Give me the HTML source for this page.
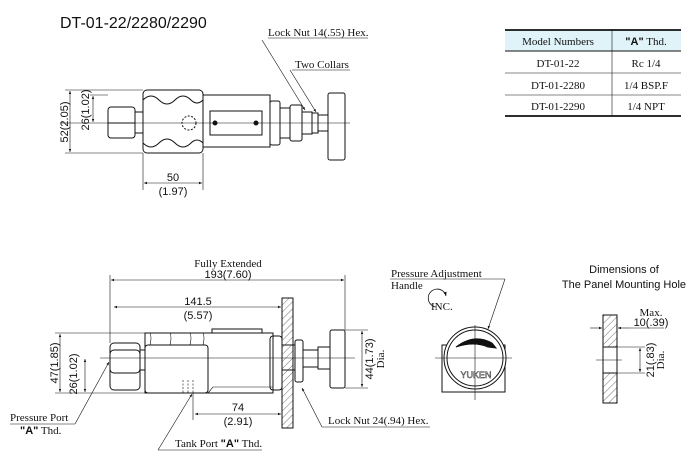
<!DOCTYPE html>
<html><head><style>
html,body{margin:0;padding:0;background:#fff;}
svg{display:block;}
.s{font-family:"Liberation Serif",serif;font-size:11px;fill:#111;}
.a{font-family:"Liberation Sans",sans-serif;font-size:11px;fill:#111;}
</style></head><body>
<svg width="700" height="458" viewBox="0 0 700 458" xmlns="http://www.w3.org/2000/svg">
<defs>
<pattern id="h" width="5" height="5" patternUnits="userSpaceOnUse" patternTransform="rotate(45)">
<line x1="0" y1="0" x2="0" y2="5" stroke="#333" stroke-width="0.7"/></pattern>
<marker id="ar" viewBox="0 0 10 10" refX="10" refY="5" markerWidth="7" markerHeight="5" orient="auto-start-reverse"><path d="M0,1 L10,5 L0,9z" fill="#111"/></marker>
</defs>
<g stroke="#111" fill="none" stroke-width="1">
<!-- TOP DRAWING -->
<line x1="60" y1="123" x2="350" y2="123" stroke-width="0.6"/>
<rect x="108" y="107" width="27" height="31" rx="3"/>
<line x1="108" y1="123" x2="135" y2="123"/>
<rect x="135" y="112" width="8" height="21"/>
<rect x="143" y="90" width="60" height="63" rx="4"/>
<path d="M143,100 q8,-8 16,0 q8,8 16,0 q8,-8 16,0 q6,6 12,0" />
<path d="M143,143 q8,8 16,0 q8,-8 16,0 q8,8 16,0 q6,-6 12,0" />
<circle cx="189" cy="123" r="7" stroke-dasharray="2,1.5"/>
<rect x="203" y="95" width="67" height="52"/>
<rect x="210" y="111" width="52" height="24"/>
<circle cx="215" cy="123" r="2" fill="#111"/><circle cx="256" cy="123" r="2" fill="#111"/>
<rect x="270" y="101" width="10" height="44" rx="2"/>
<rect x="280" y="108" width="10" height="30"/>
<rect x="290" y="105" width="12" height="36" rx="2"/>
<rect x="302" y="112" width="10" height="22"/>
<rect x="312" y="113" width="6" height="20"/><rect x="318" y="115" width="10" height="16"/>
<rect x="328" y="93" width="17" height="67" rx="2"/>
<line x1="65" y1="90" x2="143" y2="90" stroke-width="0.6"/>
<line x1="65" y1="153" x2="143" y2="153" stroke-width="0.6"/>
<line x1="90" y1="95" x2="108" y2="95" stroke-width="0.6"/>
<line x1="70" y1="91" x2="70" y2="152" marker-start="url(#ar)" marker-end="url(#ar)" stroke-width="0.6"/>
<line x1="93" y1="96" x2="93" y2="122" marker-start="url(#ar)" marker-end="url(#ar)" stroke-width="0.6"/>
<line x1="143" y1="153" x2="143" y2="190" stroke-width="0.6"/>
<line x1="203" y1="153" x2="203" y2="190" stroke-width="0.6"/>
<line x1="144" y1="183" x2="202" y2="183" marker-start="url(#ar)" marker-end="url(#ar)" stroke-width="0.6"/>
<line x1="268" y1="38" x2="368" y2="38" stroke-width="0.6"/>
<line x1="262" y1="40" x2="305" y2="110" marker-end="url(#ar)" stroke-width="0.6"/>
<line x1="292" y1="70" x2="350" y2="70" stroke-width="0.6"/>
<line x1="290" y1="70" x2="316" y2="112" marker-end="url(#ar)" stroke-width="0.6"/>
<!-- TABLE -->
<rect x="505" y="30" width="176" height="21" fill="#dff3f8" stroke="none"/>
<line x1="505" y1="30" x2="681" y2="30" stroke-width="1.8"/>
<line x1="505" y1="51" x2="681" y2="51"/>
<line x1="505" y1="73" x2="681" y2="73" stroke-width="0.6"/>
<line x1="505" y1="95" x2="681" y2="95" stroke-width="0.6"/>
<line x1="505" y1="116" x2="681" y2="116" stroke-width="1.8"/>
<line x1="612" y1="30" x2="612" y2="116" stroke-width="0.6"/>
<!-- BOTTOM DRAWING -->
<line x1="100" y1="358" x2="355" y2="358" stroke-width="0.6"/>
<rect x="110" y="343" width="30" height="30" rx="4"/>
<rect x="110" y="350" width="30" height="40" rx="4"/>
<rect x="140" y="350" width="5" height="20"/>
<rect x="145" y="333" width="128" height="60"/>
<rect x="145" y="345" width="63" height="48" rx="3"/>
<path d="M150,345 q2,-8 0,-12 M170,345 q2,-8 0,-12 M190,345 q2,-8 0,-12 M203,345 q2,-8 0,-12" stroke-width="0.6"/>
<path d="M212,333 v-4 h50 v4"/>
<path d="M183,380 v13 M188,380 v13 M193,380 v13" stroke-dasharray="2,1.5" stroke-width="0.6"/>
<path d="M208,393 l5,-6 h60" stroke-width="0.6"/>
<rect x="270" y="336" width="12" height="54" rx="3"/>
<rect x="282" y="345" width="13" height="25"/>
<rect x="295" y="340" width="8" height="42" rx="2"/>
<rect x="303" y="350" width="15" height="17"/>
<rect x="318" y="347" width="12" height="22"/>
<rect x="330" y="330" width="15" height="58" rx="2"/>
<rect x="282" y="298" width="11" height="130" fill="url(#h)"/>
<line x1="110" y1="275" x2="110" y2="343" stroke-width="0.6"/>
<line x1="345" y1="275" x2="345" y2="330" stroke-width="0.6"/>
<line x1="111" y1="280" x2="344" y2="280" marker-start="url(#ar)" marker-end="url(#ar)" stroke-width="0.6"/>
<line x1="114" y1="307" x2="281" y2="307" marker-start="url(#ar)" marker-end="url(#ar)" stroke-width="0.6"/>
<line x1="55" y1="333" x2="145" y2="333" stroke-width="0.6"/>
<line x1="55" y1="393" x2="145" y2="393" stroke-width="0.6"/>
<line x1="60" y1="334" x2="60" y2="392" marker-start="url(#ar)" marker-end="url(#ar)" stroke-width="0.6"/>
<line x1="85" y1="359" x2="85" y2="392" marker-start="url(#ar)" marker-end="url(#ar)" stroke-width="0.6"/>
<line x1="345" y1="330" x2="368" y2="330" stroke-width="0.6"/>
<line x1="345" y1="388" x2="368" y2="388" stroke-width="0.6"/>
<line x1="362" y1="331" x2="362" y2="387" marker-start="url(#ar)" marker-end="url(#ar)" stroke-width="0.6"/>
<line x1="193" y1="393" x2="193" y2="420" stroke-width="0.6"/>
<line x1="195" y1="414" x2="281" y2="414" marker-start="url(#ar)" marker-end="url(#ar)" stroke-width="0.6"/>
<line x1="10" y1="424" x2="75" y2="424" stroke-width="0.6"/>
<line x1="75" y1="424" x2="109" y2="362" marker-end="url(#ar)" stroke-width="0.6"/>
<line x1="158" y1="450" x2="262" y2="450" stroke-width="0.6"/>
<line x1="158" y1="450" x2="192" y2="394" marker-end="url(#ar)" stroke-width="0.6"/>
<line x1="322" y1="427" x2="430" y2="427" stroke-width="0.6"/>
<line x1="322" y1="427" x2="302" y2="388" marker-end="url(#ar)" stroke-width="0.6"/>
<!-- handle front view -->
<line x1="390" y1="279" x2="505" y2="279" stroke-width="0.6"/>
<line x1="505" y1="279" x2="488" y2="329" marker-end="url(#ar)" stroke-width="0.6"/>
<path d="M436,307 a9,9 0 1,1 10,-11" stroke-width="0.8" marker-end="url(#ar)"/>
<rect x="442" y="345" width="63" height="47"/>
<circle cx="475" cy="358" r="31" fill="#fff"/>
<circle cx="475" cy="358" r="28"/>
<line x1="435" y1="358" x2="512" y2="358" stroke-width="0.6"/>
<line x1="475" y1="325" x2="475" y2="400" stroke-width="0.6"/>
<path d="M456,347 q18,-14 36,-4 l4,5 l-8,-1 q-14,-6 -32,0z" fill="#111"/>
<!-- panel hole -->
<rect x="603" y="315" width="14" height="32" fill="url(#h)"/>
<rect x="603" y="373" width="14" height="30" fill="url(#h)"/>
<line x1="603" y1="347" x2="603" y2="373"/><line x1="617" y1="347" x2="617" y2="373"/>
<line x1="596" y1="360" x2="622" y2="360" stroke-width="0.6"/>
<line x1="590" y1="328" x2="602" y2="328" marker-end="url(#ar)" stroke-width="0.6"/>
<line x1="630" y1="328" x2="618" y2="328" marker-end="url(#ar)" stroke-width="0.6"/>
<line x1="630" y1="328" x2="664" y2="328" stroke-width="0.6"/>
<line x1="617" y1="347" x2="645" y2="347" stroke-width="0.6"/>
<line x1="617" y1="373" x2="645" y2="373" stroke-width="0.6"/>
<line x1="640" y1="348" x2="640" y2="372" marker-start="url(#ar)" marker-end="url(#ar)" stroke-width="0.6"/>
</g>
<text x="60" y="28" font-family="Liberation Sans,sans-serif" font-size="16" fill="#111">DT-01-22/2280/2290</text>
<text class="s" x="268" y="36">Lock Nut 14(.55) Hex.</text>
<text class="s" x="295" y="68">Two Collars</text>
<text class="a" transform="translate(68,122) rotate(-90)" text-anchor="middle">52(2.05)</text>
<text class="a" transform="translate(89,110) rotate(-90)" text-anchor="middle">26(1.02)</text>
<text class="a" x="173" y="181" text-anchor="middle">50</text>
<text class="a" x="173" y="195" text-anchor="middle">(1.97)</text>
<g class="s" text-anchor="middle">
<text x="558" y="45" class="s">Model Numbers</text>
<text x="646" y="45" class="s"><tspan font-family="Liberation Sans,sans-serif" font-weight="bold">"A"</tspan> Thd.</text>
<text x="558" y="67" class="s">DT-01-22</text><text x="646" y="67" class="s">Rc 1/4</text>
<text x="558" y="89" class="s">DT-01-2280</text><text x="646" y="89" class="s">1/4 BSP.F</text>
<text x="558" y="110" class="s">DT-01-2290</text><text x="646" y="110" class="s">1/4 NPT</text>
</g>
<text class="s" x="228" y="267" text-anchor="middle">Fully Extended</text>
<text class="a" x="228" y="278" text-anchor="middle">193(7.60)</text>
<text class="a" x="198" y="305" text-anchor="middle">141.5</text>
<text class="a" x="198" y="319" text-anchor="middle">(5.57)</text>
<text class="a" transform="translate(58,363) rotate(-90)" text-anchor="middle">47(1.85)</text>
<text class="a" transform="translate(77,374) rotate(-90)" text-anchor="middle">26(1.02)</text>
<text class="a" transform="translate(373,359) rotate(-90)" text-anchor="middle">44(1.73)</text>
<text class="s" transform="translate(384,359) rotate(-90)" text-anchor="middle">Dia.</text>
<text class="a" x="238" y="411" text-anchor="middle">74</text>
<text class="a" x="238" y="425" text-anchor="middle">(2.91)</text>
<text class="s" x="10" y="421">Pressure Port</text>
<text class="s" x="20" y="434"><tspan font-family="Liberation Sans,sans-serif" font-weight="bold">"A"</tspan> Thd.</text>
<text class="s" x="175" y="447">Tank Port <tspan font-family="Liberation Sans,sans-serif" font-weight="bold">"A"</tspan> Thd.</text>
<text class="s" x="328" y="424">Lock Nut 24(.94) Hex.</text>
<text class="s" x="391" y="277">Pressure Adjustment</text>
<text class="s" x="391" y="289">Handle</text>
<text class="s" x="431" y="310">INC.</text>
<text x="476" y="378" text-anchor="middle" font-family="Liberation Sans,sans-serif" font-size="9" fill="#fff" stroke="#333" stroke-width="0.5">YUKEN</text>
<text class="a" x="624" y="273" text-anchor="middle" font-size="12">Dimensions of</text>
<text class="a" x="624" y="288" text-anchor="middle" font-size="12">The Panel Mounting Hole</text>
<text class="s" x="651" y="316" text-anchor="middle">Max.</text>
<text class="a" x="651" y="326" text-anchor="middle">10(.39)</text>
<text class="a" transform="translate(654,360) rotate(-90)" text-anchor="middle">21(.83)</text>
<text class="s" transform="translate(664,360) rotate(-90)" text-anchor="middle">Dia.</text>
</svg>
</body></html>
